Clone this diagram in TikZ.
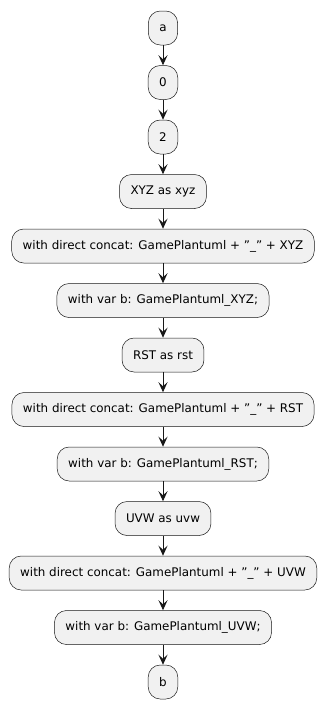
\documentclass[tikz,border=0pt]{standalone}
\usepackage{fontspec}
\setmainfont{DejaVu Sans}
\usepackage{tikz}
\usetikzlibrary{arrows.meta,positioning}
\definecolor{actfill}{HTML}{F1F1F1}
\definecolor{actline}{HTML}{181818}
\newcommand{\dq}{\symbol{34}}

\begin{document}
\begin{tikzpicture}[
    font=\fontsize{11.9}{14}\selectfont,
    >={Stealth[length=10pt,width=9pt,inset=4pt]},
    line width=1pt,
    node distance=20pt,
    act/.style={draw=actline, line width=0.5pt, rounded corners=12pt, fill=actfill, minimum height=34pt, inner xsep=11pt, align=center},
    flow/.style={->, draw=actline}
]
\useasboundingbox (0,0) rectangle (326pt,-702pt);
\node[act] (a) at (163pt,-28pt) {a};
\node[act, below=of a] (zero) {0};
\node[act, below=of zero] (two) {2};

\node[act, below=of two] (xyz) {XYZ as xyz};
\node[act, below=of xyz] (xyzconcat) {with direct concat: GamePlantuml + \dq\_\dq{} + XYZ};
\node[act, below=of xyzconcat] (xyzvar) {with var b: GamePlantuml\_XYZ;};

\node[act, below=of xyzvar] (rst) {RST as rst};
\node[act, below=of rst] (rstconcat) {with direct concat: GamePlantuml + \dq\_\dq{} + RST};
\node[act, below=of rstconcat] (rstvar) {with var b: GamePlantuml\_RST;};

\node[act, below=of rstvar] (uvw) {UVW as uvw};
\node[act, below=of uvw] (uvwconcat) {with direct concat: GamePlantuml + \dq\_\dq{} + UVW};
\node[act, below=of uvwconcat] (uvwvar) {with var b: GamePlantuml\_UVW;};

\node[act, below=of uvwvar] (b) {b};

\draw[flow] (a) -- (zero);
\draw[flow] (zero) -- (two);
\draw[flow] (two) -- (xyz);
\draw[flow] (xyz) -- (xyzconcat);
\draw[flow] (xyzconcat) -- (xyzvar);
\draw[flow] (xyzvar) -- (rst);
\draw[flow] (rst) -- (rstconcat);
\draw[flow] (rstconcat) -- (rstvar);
\draw[flow] (rstvar) -- (uvw);
\draw[flow] (uvw) -- (uvwconcat);
\draw[flow] (uvwconcat) -- (uvwvar);
\draw[flow] (uvwvar) -- (b);
\end{tikzpicture}
\end{document}
